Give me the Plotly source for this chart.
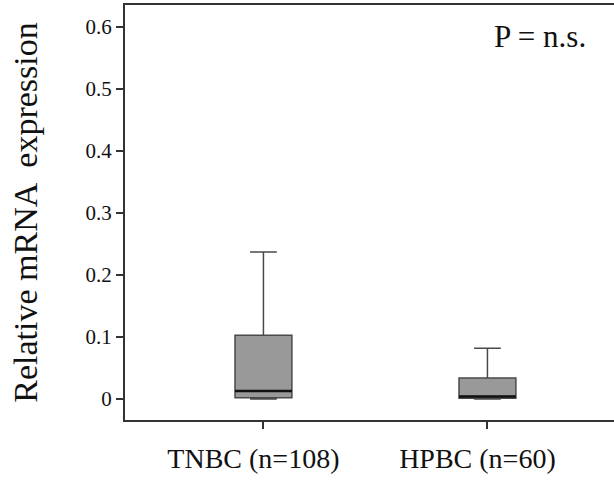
import plotly.graph_objects as go

# Group labels and five-number summaries of relative mRNA expression
groups = ["TNBC (n=108)", "HPBC (n=60)"]
lower_fence = [0.0, 0.0]
q1 = [0.002, 0.001]
median = [0.013, 0.004]
q3 = [0.103, 0.034]
upper_fence = [0.237, 0.082]

y_ticks = [0, 0.1, 0.2, 0.3, 0.4, 0.5, 0.6]
y_ticktext = ["0", "0.1", "0.2", "0.3", "0.4", "0.5", "0.6"]

positions = list(range(len(groups)))
box_width = 0.254
serif = "Liberation Serif, Times New Roman, serif"

fig = go.Figure()
fig.add_trace(go.Box(
    x=positions,
    lowerfence=lower_fence,
    q1=q1,
    median=median,
    q3=q3,
    upperfence=upper_fence,
    width=box_width,
    whiskerwidth=0.47,
    fillcolor="#999999",
    line=dict(color="#4a4a4a", width=1.5),
    boxpoints=False,
    showlegend=False,
    hoverinfo="skip",
))

# Emphasised median bars drawn over each box
mx, my = [], []
for p, m in zip(positions, median):
    mx += [p - box_width / 2, p + box_width / 2, None]
    my += [m, m, None]
fig.add_trace(go.Scatter(
    x=mx, y=my, mode="lines",
    line=dict(color="#111111", width=2.5),
    showlegend=False, hoverinfo="skip",
))

fig.add_annotation(
    text="P = n.s.", x=0.849, y=0.923, xref="paper", yref="paper",
    xanchor="center", yanchor="middle",
    showarrow=False, font=dict(family=serif, size=31, color="#111111"),
)

fig.update_layout(
    width=614, height=480,
    margin=dict(l=125, r=0, t=5, b=60),
    paper_bgcolor="white", plot_bgcolor="white",
    font=dict(family=serif, color="#111111"),
)
fig.update_xaxes(
    range=[-0.618, 1.565],
    tickvals=positions, ticktext=groups,
    tickfont=dict(size=28),
    showline=True, linecolor="#333333", linewidth=2, mirror=True,
    ticks="outside", ticklen=7, tickwidth=1.5, tickcolor="#333333",
    ticklabelstandoff=5, ticklabelshift=-10,
    showgrid=False, zeroline=False,
)
fig.update_yaxes(
    range=[-0.0339, 0.6355],
    tickvals=y_ticks, ticktext=y_ticktext,
    tickfont=dict(size=21),
    showline=True, linecolor="#333333", linewidth=2, mirror=False,
    ticks="outside", ticklen=7, tickwidth=1.5, tickcolor="#333333",
    showgrid=False, zeroline=False,
    title=dict(text="Relative mRNA  expression", font=dict(size=34), standoff=38),
)

fig.write_html("out.html")
